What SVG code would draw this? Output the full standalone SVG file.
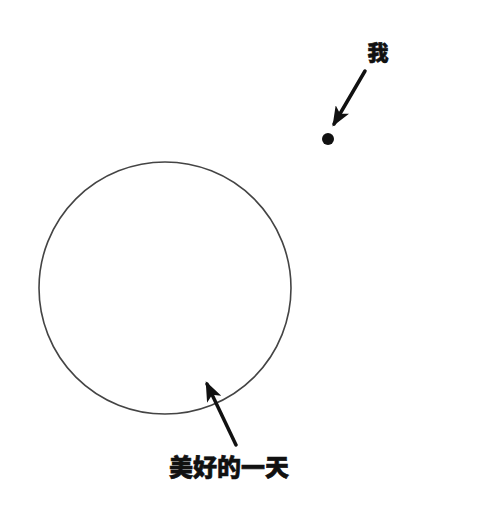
<svg xmlns="http://www.w3.org/2000/svg" width="480" height="525" viewBox="0 0 480 525">
<style>
.lbl{font-family:"Noto Sans CJK SC","Noto Sans CJK JP",sans-serif;font-weight:900;fill:#111;text-anchor:middle;stroke:#111;stroke-width:0.6}
.arr{stroke:#111;stroke-width:3.5;fill:none;stroke-linecap:round}
</style>
<defs>
<marker id="ah" viewBox="0 0 20 16" refX="17" refY="8" markerWidth="20" markerHeight="16" orient="auto" markerUnits="userSpaceOnUse">
<path d="M0,0 L20,8 L0,16 L5,8 Z" fill="#111"/>
</marker>
</defs>
<rect width="480" height="525" fill="#fff"/>
<g id="day">
<circle cx="165" cy="288" r="126" fill="none" stroke="#444" stroke-width="1.6"/>
<text class="lbl" x="229" y="476" font-size="24">美好的一天</text>
</g>
<g id="me">
<circle cx="328" cy="139" r="6" fill="#111"/>
<text class="lbl" x="378" y="60" font-size="21">我</text>
</g>
<g id="connectors">
<path class="arr" d="M365,71 L334,124" marker-end="url(#ah)"/>
<path class="arr" d="M236,445 L207,384" marker-end="url(#ah)"/>
</g>
</svg>
